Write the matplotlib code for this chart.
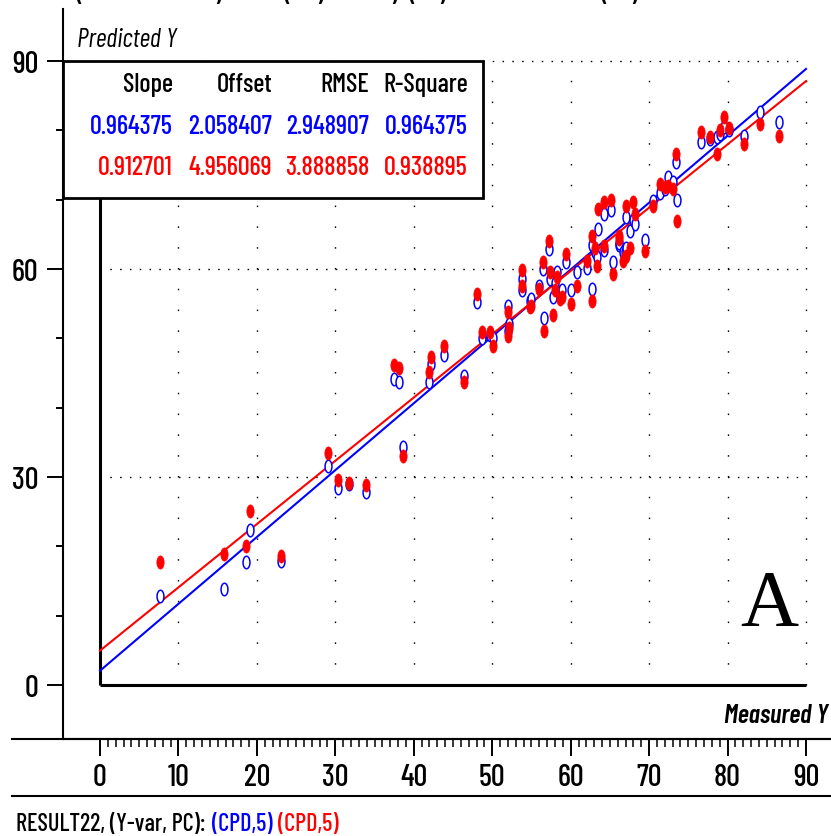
import numpy as np
import matplotlib
matplotlib.use('Agg')
import matplotlib.pyplot as plt
from matplotlib import font_manager
from matplotlib.path import Path
from matplotlib.patches import Rectangle
from matplotlib.lines import Line2D
from matplotlib.ticker import FixedLocator

# ---------------- data ----------------
measured = [7.7, 15.8, 18.6, 19.1, 23.1, 29.1, 30.3, 31.7, 33.9, 37.5,
            38.1, 38.6, 41.9, 42.2, 43.8, 46.4, 48.0, 48.7, 49.7, 50.1,
            52.0, 52.1, 52.0, 53.8, 53.8, 54.8, 55.0, 56.0, 56.5, 56.6,
            57.2, 57.4, 57.8, 58.0, 58.3, 58.6, 58.9, 59.4, 60.0, 60.8,
            62.1, 62.7, 62.7, 63.1, 63.3, 63.5, 64.2, 64.2, 65.1, 65.4,
            66.1, 66.2, 66.7, 66.9, 67.1, 67.1, 67.6, 67.9, 68.2, 69.5,
            70.5, 71.4, 72.0, 72.4, 73.1, 73.4, 73.5, 76.6, 77.7, 78.6,
            79.1, 79.6, 80.2, 82.1, 84.1, 86.5]
pred_cal = [12.9, 13.8, 17.7, 22.3, 17.9, 31.6, 28.4, 29.0, 27.9, 44.1,
            43.7, 34.3, 43.7, 46.3, 47.6, 44.6, 55.2, 50.1, 50.5, 50.1,
            54.7, 52.0, 51.0, 58.5, 57.0, 55.4, 55.7, 57.6, 60.0, 53.0,
            62.9, 58.5, 56.0, 58.0, 59.5, 56.5, 57.0, 61.0, 56.9, 59.5,
            60.2, 57.1, 63.5, 62.5, 61.7, 65.8, 67.9, 62.8, 68.5, 61.0,
            63.5, 63.8, 62.4, 62.5, 63.0, 67.5, 65.5, 67.0, 66.5, 64.2,
            69.8, 71.0, 71.5, 73.2, 72.5, 75.4, 69.9, 78.3, 78.8, 79.0,
            79.5, 80.5, 80.0, 79.2, 82.6, 81.2]
pred_val = [17.7, 18.9, 20.1, 25.1, 18.6, 33.5, 29.5, 29.1, 28.8, 46.2,
            45.7, 33.1, 45.1, 47.3, 48.9, 43.7, 56.4, 50.9, 50.9, 48.9,
            53.8, 51.5, 50.3, 59.8, 57.5, 54.5, 54.7, 57.1, 61.0, 51.1,
            64.1, 59.5, 53.3, 57.0, 58.8, 55.7, 56.0, 62.2, 55.0, 57.6,
            61.2, 55.4, 64.8, 63.1, 60.5, 68.7, 69.6, 63.3, 69.9, 59.3,
            64.8, 64.3, 61.2, 61.7, 61.9, 69.1, 63.1, 69.6, 67.9, 62.6,
            69.1, 72.3, 71.8, 72.0, 71.5, 76.6, 66.9, 79.7, 79.0, 76.6,
            80.0, 81.9, 80.4, 78.0, 80.9, 79.2]

stat_headers = ["Slope", "Offset", "RMSE", "R-Square"]
stats_cal = ["0.964375", "2.058407", "2.948907", "0.964375"]
stats_val = ["0.912701", "4.956069", "3.888858", "0.938895"]
slope_cal, offset_cal = 0.964375, 2.058407
slope_val, offset_val = 0.912701, 4.956069

x_major = list(range(0, 91, 10))
x_minor = list(range(0, 91, 1))
y_major = [0, 30, 60, 90]
y_minor = [10, 20, 40, 50, 70, 80]
grid_y = [30, 60, 90]
grid_x = list(range(10, 91, 10))

caption_left = "RESULT22, (Y-var, PC):"
caption_cal = "(CPD,5)"
caption_val = "(CPD,5)"

# ---------------- style ----------------
names = {f.name for f in font_manager.fontManager.ttflist}
FAMILY = 'DejaVu Sans'
for cand in ['Barlow Condensed', 'Archivo Narrow', 'Asap Condensed']:
    if cand in names:
        FAMILY = cand
        break
SERIF = 'Liberation Serif' if 'Liberation Serif' in names else 'DejaVu Serif'

plt.rcParams['font.family'] = [FAMILY, 'DejaVu Sans']
plt.rcParams['font.weight'] = 500
plt.rcParams['lines.scale_dashes'] = False

BLUE = '#0000ff'
RED = '#ff0000'

W, H = 831, 837
fig = plt.figure(figsize=(W / 100, H / 100), dpi=100)
fig.patch.set_facecolor('white')


def fx(px):
    return px / W


def fy(py):
    return 1 - py / H


# axes: left spine at px 63, bottom spine at px 740
ax = fig.add_axes([fx(63), fy(740), fx(831) - fx(63), fy(10) - fy(740)])
K = (806 - 100) / 90.0
L = (686 - 62) / 90.0
ax.set_xlim((63 - 100) / K, (831 - 100) / K)
ax.set_ylim((686 - 740) / L, (686 - 10) / L)
ax.patch.set_alpha(0)

for s in ['top', 'right']:
    ax.spines[s].set_visible(False)
for s in ['left', 'bottom']:
    ax.spines[s].set_linewidth(1.5)
    ax.spines[s].set_color('black')

TICKFS = 22
ax.xaxis.set_major_locator(FixedLocator(x_major))
ax.xaxis.set_minor_locator(FixedLocator(x_minor))
ax.yaxis.set_major_locator(FixedLocator(y_major))
ax.yaxis.set_minor_locator(FixedLocator(y_minor))
ax.tick_params(axis='x', which='major', direction='out', length=12.5,
               width=1.4, pad=5, labelsize=TICKFS)
ax.tick_params(axis='x', which='minor', direction='out', length=6, width=1.1)
ax.tick_params(axis='y', which='major', direction='out', length=11.5,
               width=1.4, pad=6, labelsize=TICKFS)
ax.tick_params(axis='y', which='minor', direction='out', length=5, width=1.4)

# dotted grid
for gx in grid_x:
    ax.plot([gx, gx], [0, 90], color='black', lw=1.0,
            linestyle=(0, (1.1, 3 * L * 0.72 - 1.1)), zorder=1)
for gy in grid_y:
    ax.plot([0, 90], [gy, gy], color='black', lw=1.0,
            linestyle=(0, (1.1, 1.25 * K * 0.72 - 1.1)), zorder=1)

# inner frame
ax.plot([0, 0], [0, 90], color='black', lw=2.2, solid_capstyle='butt', zorder=2)
ax.plot([0, 90], [0, 0], color='black', lw=2.2, solid_capstyle='butt', zorder=2)

# regression lines
xs = np.array([0.0, 90.0])
ax.plot(xs, slope_cal * xs + offset_cal, color=BLUE, lw=1.5, zorder=3)
ax.plot(xs, slope_val * xs + offset_val, color=RED, lw=1.5, zorder=3)

# elliptical markers
th = np.linspace(0, 2 * np.pi, 61)
ellipse = Path(np.column_stack([0.55 * np.cos(th), np.sin(th)]), closed=True)
ax.plot(measured, pred_cal, linestyle='none', marker=ellipse, markersize=9,
        markerfacecolor='white', markeredgecolor=BLUE, markeredgewidth=1.1,
        zorder=4)
ax.plot(measured, pred_val, linestyle='none', marker=ellipse, markersize=9.5,
        markerfacecolor=RED, markeredgecolor=RED, markeredgewidth=0.5,
        zorder=5)

# table box
box = Rectangle((fx(63), fy(199)), fx(483) - fx(63), fy(62) - fy(199),
                transform=fig.transFigure, facecolor='white',
                edgecolor='black', lw=2.0, zorder=6, clip_on=False)
ax.add_patch(box)
TABFS = 19
col_right = [173, 272, 369, 468]
for i in range(4):
    ax.text(fx(col_right[i]), fy(92), stat_headers[i], transform=fig.transFigure,
            ha='right', va='baseline', fontsize=TABFS, color='black', zorder=7)
    ax.text(fx(col_right[i]), fy(134), stats_cal[i], transform=fig.transFigure,
            ha='right', va='baseline', fontsize=TABFS, color=BLUE, zorder=7)
    ax.text(fx(col_right[i]), fy(175), stats_val[i], transform=fig.transFigure,
            ha='right', va='baseline', fontsize=TABFS, color=RED, zorder=7)

# axis titles
fig.text(fx(77), fy(47), "Predicted Y", fontsize=19, style='italic',
         weight=400, ha='left', va='baseline')
fig.text(fx(828), fy(723), "Measured Y", fontsize=19, style='italic',
         weight=600, ha='right', va='baseline')
fig.text(fx(769), fy(626), "A", fontsize=58, family=SERIF, weight='normal',
         ha='center', va='baseline', color='black')

# extra rule lines
fig.add_artist(Line2D([fx(12), fx(831)], [fy(740), fy(740)], lw=1.5,
                      color='black'))
fig.add_artist(Line2D([fx(12), fx(831)], [fy(797), fy(797)], lw=1.5,
                      color='black'))

# bottom caption
CAPFS = 17.5
t1 = fig.text(fx(16), fy(831), caption_left, fontsize=CAPFS, color='black',
              ha='left', va='baseline')
t2 = fig.text(0, 0, caption_cal, fontsize=CAPFS, color=BLUE, va='baseline')
t3 = fig.text(0, 0, caption_val, fontsize=CAPFS, color=RED, va='baseline')
fig.canvas.draw()
r = fig.canvas.get_renderer()
gap = 6
bb1 = t1.get_window_extent(r)
t2.set_position((fx(bb1.x1 + gap), fy(831)))
fig.canvas.draw()
bb2 = t2.get_window_extent(r)
t3.set_position((fx(bb2.x1 + gap), fy(831)))

# clipped caption fragments at the top edge
paren_x = [80, 218, 288, 320, 394, 413, 442, 605, 634]
paren_c = ['(', ')', '(', ')', ')', '(', ')', '(', ')']
for px, ch in zip(paren_x, paren_c):
    fig.text(fx(px), fy(1), ch, fontsize=20, ha='center', va='baseline')

fig.savefig('out.png', dpi=100, facecolor='white')
